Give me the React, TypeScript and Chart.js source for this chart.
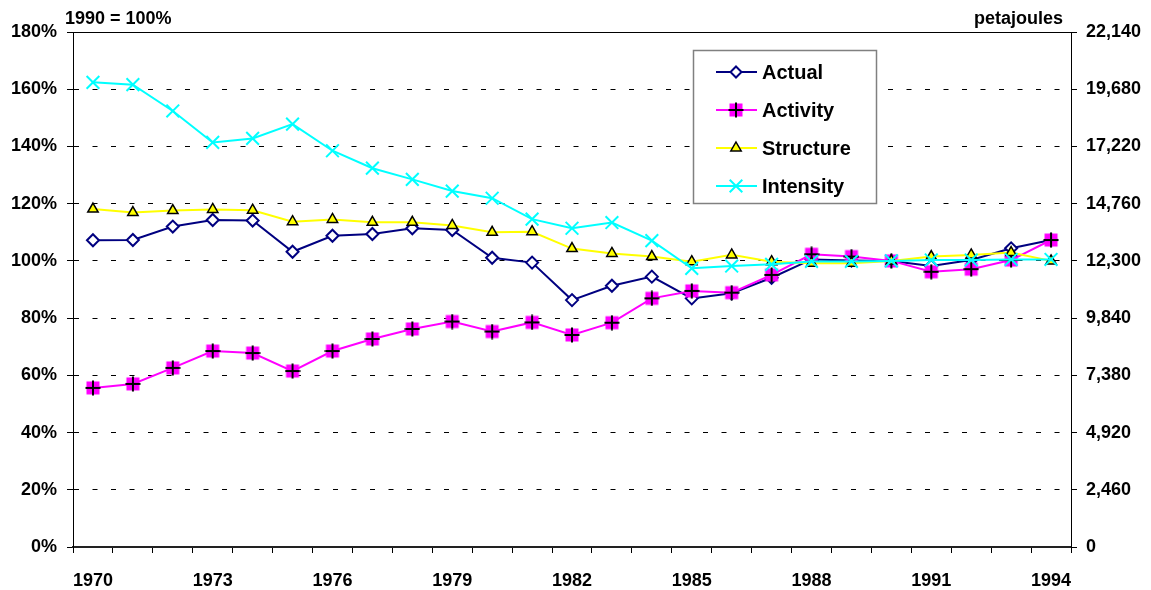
import React, { useEffect, useRef } from 'react';
import { Chart, registerables } from 'chart.js';

Chart.register(...registerables);

const years = [1970, 1971, 1972, 1973, 1974, 1975, 1976, 1977, 1978, 1979, 1980, 1981, 1982, 1983, 1984, 1985, 1986, 1987, 1988, 1989, 1990, 1991, 1992, 1993, 1994];
const labelledYears = [1970, 1973, 1976, 1979, 1982, 1985, 1988, 1991, 1994];

const actual = [107.2, 107.3, 112.0, 114.3, 114.1, 103.2, 108.8, 109.4, 111.4, 110.8, 101.1, 99.4, 86.3, 91.3, 94.5, 86.9, 88.7, 94.1, 100.5, 100.1, 100.0, 98.2, 100.3, 104.4, 107.3];
const activity = [55.6, 57.0, 62.6, 68.5, 67.8, 61.5, 68.5, 72.7, 76.2, 78.8, 75.3, 78.5, 74.1, 78.4, 86.9, 89.5, 88.9, 95.1, 102.3, 101.5, 100.0, 96.2, 97.1, 100.3, 107.3];
const structure = [118.1, 116.9, 117.6, 118.0, 117.7, 113.7, 114.5, 113.5, 113.5, 112.4, 110.0, 110.2, 104.3, 102.6, 101.5, 99.7, 102.1, 99.7, 99.2, 99.2, 100.0, 101.5, 102.1, 102.9, 100.0];
const intensity = [162.4, 161.6, 152.4, 141.4, 142.8, 147.8, 138.5, 132.4, 128.5, 124.4, 121.9, 114.6, 111.4, 113.4, 107.1, 97.4, 98.2, 98.8, 99.8, 99.8, 100.0, 100.3, 100.3, 100.5, 100.5];

const seriesNames = ['Actual', 'Activity', 'Structure', 'Intensity'];
const leftMax = 180;
const leftStep = 20;
const rightMax = 22140;
const rightStep = 2460;

const FONT = 'Arial, "Liberation Sans", Helvetica, sans-serif';

function makeActivityMarker(): HTMLCanvasElement {
  const c = document.createElement('canvas');
  c.width = 16;
  c.height = 16;
  const g = c.getContext('2d')!;
  g.fillStyle = '#FF00FF';
  g.fillRect(1.5, 1.5, 13, 13);
  g.strokeStyle = '#000';
  g.lineWidth = 2;
  g.beginPath();
  g.moveTo(8, 0.5);
  g.lineTo(8, 15.5);
  g.moveTo(0.5, 8);
  g.lineTo(15.5, 8);
  g.stroke();
  return c;
}

export default function App() {
  const ref = useRef<HTMLCanvasElement | null>(null);

  useEffect(() => {
    if (!ref.current) return;
    const activityMarker = makeActivityMarker();

    const overlay = {
      id: 'overlay',
      afterDraw(chart: any) {
        const ctx = chart.ctx as CanvasRenderingContext2D;
        const { left, right, top } = chart.chartArea;
        ctx.save();
        ctx.strokeStyle = '#000';
        ctx.lineWidth = 1;
        ctx.beginPath();
        ctx.moveTo(left, Math.round(top) + 0.5);
        ctx.lineTo(right, Math.round(top) + 0.5);
        ctx.stroke();

        ctx.fillStyle = '#000';
        ctx.font = 'bold 18px ' + FONT;
        ctx.textBaseline = 'alphabetic';
        ctx.textAlign = 'left';
        ctx.fillText('1990 = 100%', 65, 24);
        ctx.textAlign = 'right';
        ctx.fillText('petajoules', 1063, 24);

        const bx = 693, by = 50, bw = 183, bh = 153;
        ctx.fillStyle = '#fff';
        ctx.fillRect(bx, by, bw, bh);
        ctx.strokeStyle = '#808080';
        ctx.lineWidth = 1.5;
        ctx.strokeRect(bx + 0.5, by + 0.5, bw, bh);

        const rows = [72, 110, 148, 186];
        const colors = ['#000080', '#FF00FF', '#FFFF00', '#00FFFF'];
        const mx = 736;
        rows.forEach((y, i) => {
          ctx.strokeStyle = colors[i];
          ctx.lineWidth = 2;
          ctx.beginPath();
          ctx.moveTo(716, y);
          ctx.lineTo(757, y);
          ctx.stroke();
          if (i === 0) {
            ctx.fillStyle = '#fff';
            ctx.strokeStyle = '#000080';
            ctx.lineWidth = 2;
            ctx.beginPath();
            ctx.moveTo(mx, y - 5.5);
            ctx.lineTo(mx + 5.5, y);
            ctx.lineTo(mx, y + 5.5);
            ctx.lineTo(mx - 5.5, y);
            ctx.closePath();
            ctx.fill();
            ctx.stroke();
          } else if (i === 1) {
            ctx.drawImage(activityMarker, mx - 8, y - 8);
          } else if (i === 2) {
            const r = 6;
            ctx.fillStyle = '#FFFF00';
            ctx.strokeStyle = '#000';
            ctx.lineWidth = 1.5;
            ctx.beginPath();
            ctx.moveTo(mx, y - r);
            ctx.lineTo(mx + r * 0.866, y + r * 0.5);
            ctx.lineTo(mx - r * 0.866, y + r * 0.5);
            ctx.closePath();
            ctx.fill();
            ctx.stroke();
          } else {
            const d = 6.3;
            ctx.strokeStyle = '#00FFFF';
            ctx.lineWidth = 2;
            ctx.beginPath();
            ctx.moveTo(mx - d, y - d);
            ctx.lineTo(mx + d, y + d);
            ctx.moveTo(mx + d, y - d);
            ctx.lineTo(mx - d, y + d);
            ctx.stroke();
          }
          ctx.fillStyle = '#000';
          ctx.font = 'bold 20px ' + FONT;
          ctx.textAlign = 'left';
          ctx.textBaseline = 'middle';
          ctx.fillText(seriesNames[i], 762, y + 1);
        });
        ctx.restore();
      },
    };

    const chart = new Chart(ref.current, {
      type: 'line',
      data: {
        labels: years.map(String),
        datasets: [
          {
            label: seriesNames[0],
            data: actual,
            borderColor: '#000080',
            backgroundColor: '#ffffff',
            borderWidth: 2,
            pointStyle: 'rectRot',
            pointRadius: 6,
            pointBorderWidth: 2,
            pointBorderColor: '#000080',
            pointBackgroundColor: '#ffffff',
            order: 4,
            yAxisID: 'y',
          },
          {
            label: seriesNames[1],
            data: activity,
            borderColor: '#FF00FF',
            backgroundColor: '#FF00FF',
            borderWidth: 2,
            pointStyle: activityMarker,
            pointRadius: 8,
            order: 3,
            yAxisID: 'y',
          },
          {
            label: seriesNames[2],
            data: structure,
            borderColor: '#FFFF00',
            backgroundColor: '#FFFF00',
            borderWidth: 2,
            pointStyle: 'triangle',
            pointRadius: 6,
            pointBorderWidth: 1.5,
            pointBorderColor: '#000000',
            pointBackgroundColor: '#FFFF00',
            order: 2,
            yAxisID: 'y',
          },
          {
            label: seriesNames[3],
            data: intensity,
            borderColor: '#00FFFF',
            backgroundColor: '#00FFFF',
            borderWidth: 2,
            pointStyle: 'crossRot',
            pointRadius: 9,
            pointBorderWidth: 2,
            pointBorderColor: '#00FFFF',
            order: 1,
            yAxisID: 'y',
          },
        ],
      },
      options: {
        responsive: false,
        animation: false,
        events: [],
        layout: { padding: { top: 32, left: 0, right: 0, bottom: 0 } },
        plugins: {
          legend: { display: false },
          tooltip: { enabled: false },
          title: { display: false },
        },
        scales: {
          x: {
            type: 'category',
            offset: true,
            afterFit: (s: any) => { s.height = 43; },
            grid: {
              offset: true,
              drawOnChartArea: false,
              drawTicks: true,
              tickLength: 6,
              color: '#000',
              lineWidth: 1,
            },
            border: { display: true, color: '#222', width: 2 },
            ticks: {
              autoSkip: false,
              maxRotation: 0,
              minRotation: 0,
              padding: 17,
              color: '#000',
              font: { family: FONT, size: 18, weight: 'bold' },
              callback: (_v: any, i: number) => (labelledYears.includes(years[i]) ? String(years[i]) : ''),
            },
          },
          y: {
            position: 'left',
            min: 0,
            max: leftMax,
            afterFit: (s: any) => { s.width = 73; },
            grid: {
              color: (c: any) => (c.tick && (c.tick.value === 0 || c.tick.value === leftMax) ? 'rgba(0,0,0,0)' : '#000'),
              tickColor: '#000',
              lineWidth: 1,
              tickLength: 6,
              tickBorderDash: [],
              drawTicks: true,
            },
            border: { display: true, color: '#000', width: 1, dash: [5, 13.5] },
            ticks: {
              stepSize: leftStep,
              padding: 10,
              color: '#000',
              font: { family: FONT, size: 18, weight: 'bold' },
              callback: (v: any) => v + '%',
            },
          },
          y2: {
            position: 'right',
            min: 0,
            max: rightMax,
            afterFit: (s: any) => { s.width = 80; },
            grid: {
              drawOnChartArea: false,
              drawTicks: true,
              tickLength: 6,
              color: '#000',
            },
            border: { display: true, color: '#000', width: 1 },
            ticks: {
              stepSize: rightStep,
              padding: 9,
              color: '#000',
              font: { family: FONT, size: 18, weight: 'bold' },
              callback: (v: any) => Number(v).toLocaleString('en-US'),
            },
          },
        },
      },
      plugins: [overlay],
    } as any);

    return () => chart.destroy();
  }, []);

  return (
    <div style={{ position: 'absolute', left: 0, top: 0, width: 1151, height: 590, background: '#fff' }}>
      <canvas ref={ref} width={1151} height={590} style={{ display: 'block' }} />
    </div>
  );
}
